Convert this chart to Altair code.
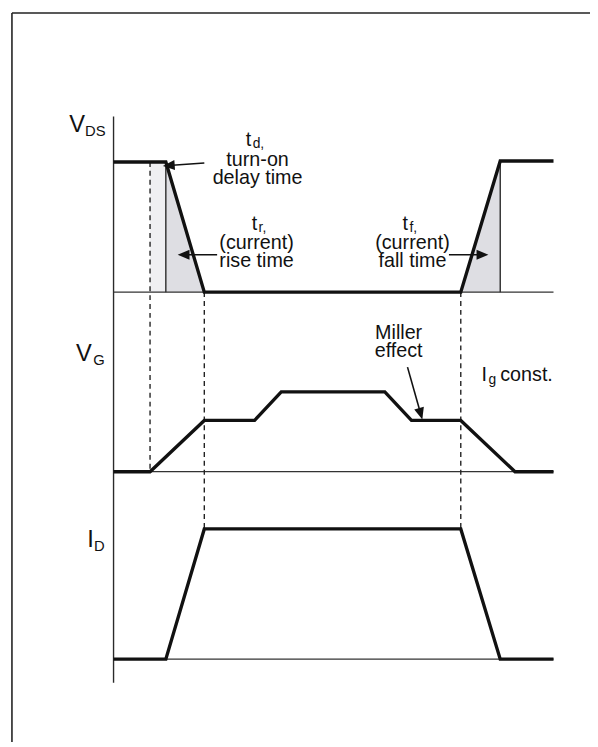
import altair as alt
import pandas as pd

# ---- waveform breakpoints (x = time position, y = level position, diagram units) ----
vds_t = [115, 168, 207, 467, 507, 561]
vds_v = [159, 159, 291, 291, 158, 158]
vg_t = [115, 152, 207, 258, 285, 390, 417, 467, 522, 561]
vg_v = [473, 473, 421, 421, 392, 392, 421, 421, 473, 473]
id_t = [115, 168, 207, 467, 507, 561]
id_v = [663, 663, 531, 531, 663, 663]

baseline_levels = [291, 473, 663]
baseline_start, baseline_end = 115, 561

dashed_x = [152, 207, 467]
dashed_top = [159, 291, 291]
dashed_bot = [473, 531, 531]

# thin helper verticals and axis
thin_x1 = [168, 507, 115]
thin_y1 = [159, 158, 113]
thin_x2 = [168, 507, 115]
thin_y2 = [291, 291, 687]

# frame (top + left only visible)
frame_x1 = [12, 12]
frame_y1 = [8, 8]
frame_x2 = [12, 598]
frame_y2 = [747, 8]

# shaded regions
light_rect = dict(x=152, x2=168, y=159, y2=291)
tri_id = ["on", "on", "off", "off"]
tri_x = [168, 207, 467, 507]
tri_top = [159, 291, 291, 158]
tri_bot = [291, 291, 291, 291]

# arrows: shaft (tail -> near head) and head tip with rotation
arrow_tail_x = [207, 220, 455, 413]
arrow_tail_y = [160, 253, 253, 367]
arrow_end_x = [171, 186, 489, 426]
arrow_end_y = [162.5, 253, 253, 413]
arrow_tip_x = [165, 180, 495, 428]
arrow_tip_y = [163, 253, 253, 420]
arrow_angle = [266, 270, 90, 164]

# texts
txt_center = ["turn-on", "delay time", "(current)", "rise time",
              "(current)", "fall time", "Miller", "effect"]
txt_center_x = [261, 261, 260, 260, 418, 418, 404, 404]
txt_center_y = [163, 181, 247, 265, 247, 265, 338, 357]

txt_left = ["t", "d,", "t", "r,", "t", "f,", "I", "g", "const."]
txt_left_x = [249, 256, 255, 262, 408, 415, 488, 495, 507]
txt_left_y = [143, 145, 228, 230, 228, 230, 381, 384, 381]
txt_left_size = [20, 14, 20, 14, 20, 14, 20, 14, 20]

txt_right = ["V", "DS", "V", "G", "I", "D"]
txt_right_x = [86, 107, 93, 106, 95, 106]
txt_right_y = [129, 133, 361, 365, 549, 553]
txt_right_size = [24, 15, 24, 15, 24, 15]

FONT = "Liberation Sans"

xs = alt.Scale(domain=[8, 598], nice=False, zero=False)
ys = alt.Scale(domain=[8, 747], nice=False, zero=False, reverse=True)


def X(f="x"):
    return alt.X(f"{f}:Q", scale=xs, axis=None)


def Y(f="y"):
    return alt.Y(f"{f}:Q", scale=ys, axis=None)


# data frames
wave = pd.concat([
    pd.DataFrame({"x": vds_t, "y": vds_v, "s": "VDS", "o": range(len(vds_t))}),
    pd.DataFrame({"x": vg_t, "y": vg_v, "s": "VG", "o": range(len(vg_t))}),
    pd.DataFrame({"x": id_t, "y": id_v, "s": "ID", "o": range(len(id_t))}),
])
base_df = pd.DataFrame({"x": [baseline_start] * 3, "x2": [baseline_end] * 3,
                        "y": baseline_levels, "y2": baseline_levels})
dash_df = pd.DataFrame({"x": dashed_x, "x2": dashed_x, "y": dashed_top, "y2": dashed_bot})
thin_df = pd.DataFrame({"x": thin_x1, "y": thin_y1, "x2": thin_x2, "y2": thin_y2})
frame_df = pd.DataFrame({"x": frame_x1, "y": frame_y1, "x2": frame_x2, "y2": frame_y2})
rect_df = pd.DataFrame([light_rect])
tri_df = pd.DataFrame({"g": tri_id, "x": tri_x, "y": tri_top, "y2": tri_bot})
shaft_df = pd.DataFrame({"x": arrow_tail_x, "y": arrow_tail_y, "x2": arrow_end_x, "y2": arrow_end_y})
head_df = pd.DataFrame({"x": arrow_tip_x, "y": arrow_tip_y, "ang": arrow_angle})
tc_df = pd.DataFrame({"x": txt_center_x, "y": txt_center_y, "text": txt_center})
tl_df = pd.DataFrame({"x": txt_left_x, "y": txt_left_y, "text": txt_left, "size": txt_left_size})
tr_df = pd.DataFrame({"x": txt_right_x, "y": txt_right_y, "text": txt_right, "size": txt_right_size})

seg_enc = dict(x=X(), y=Y(), x2="x2:Q", y2="y2:Q")

light = alt.Chart(rect_df).mark_rect(color="#efeff2").encode(x=X(), x2="x2:Q", y=Y(), y2="y2:Q")
tri = alt.Chart(tri_df).mark_area(color="#dedee3", opacity=1).encode(
    x=X(), y=Y(), y2="y2:Q", detail="g:N")
frame = alt.Chart(frame_df).mark_rule(color="#222222", strokeWidth=1.6).encode(**seg_enc)
thin = alt.Chart(thin_df).mark_rule(color="#2a2a2a", strokeWidth=1.4).encode(**seg_enc)
base = alt.Chart(base_df).mark_rule(color="#333333", strokeWidth=1.2).encode(**seg_enc)
dash = alt.Chart(dash_df).mark_rule(color="#222222", strokeWidth=1.4, strokeDash=[5, 4]).encode(**seg_enc)
waves = alt.Chart(wave).mark_line(color="#111111", strokeWidth=3.4, strokeJoin="miter").encode(
    x=X(), y=Y(), detail="s:N", order="o:Q")
shafts = alt.Chart(shaft_df).mark_rule(color="#111111", strokeWidth=1.6).encode(**seg_enc)
heads = alt.Chart(head_df).mark_point(
    shape="M0,0L0.42,1L-0.42,1Z", filled=True, size=576, color="#111111", opacity=1
).encode(x=X(), y=Y(), angle=alt.Angle("ang:Q", scale=None))

tc = alt.Chart(tc_df).mark_text(align="center", baseline="alphabetic", font=FONT,
                                fontSize=20, color="#111111").encode(x=X(), y=Y(), text="text:N")
tl = alt.Chart(tl_df).mark_text(align="left", baseline="alphabetic", font=FONT,
                                color="#111111").encode(
    x=X(), y=Y(), text="text:N", size=alt.Size("size:Q", scale=None))
tr = alt.Chart(tr_df).mark_text(align="right", baseline="alphabetic", font=FONT,
                                color="#111111").encode(
    x=X(), y=Y(), text="text:N", size=alt.Size("size:Q", scale=None))

chart = alt.layer(
    light, tri, frame, thin, base, dash, waves, shafts, heads, tc, tl, tr
).properties(
    width=590, height=739,
    autosize=alt.AutoSizeParams(type="none"),
    padding=0,
    background="white",
).configure_view(stroke=None)

chart.save("out.html", embed_options={"renderer": "svg", "actions": False})
